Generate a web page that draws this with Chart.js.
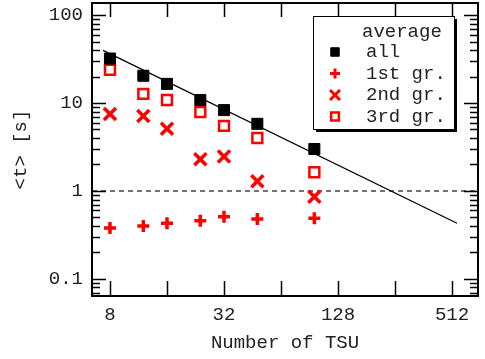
<!DOCTYPE html>
<html>
<head>
<meta charset="utf-8">
<script src="https://cdn.jsdelivr.net/npm/chart.js@4"></script>
<style>
  html, body { margin: 0; padding: 0; background: #fff; }
  #wrap { width: 485px; height: 359px; }
</style>
</head>
<body>
<div id="wrap"><canvas id="myChart"></canvas></div>
<script>
'use strict'

// number of TSU (x axis)
const tsu = [8, 12, 16, 24, 32, 48, 96];
// average <t> in seconds for each group
const tAll = [32, 20.4, 16.5, 10.8, 8.3, 5.8, 3.0];
const tFirst = [0.38, 0.40, 0.43, 0.46, 0.51, 0.48, 0.49];
const tSecond = [7.5, 7.1, 5.1, 2.3, 2.46, 1.29, 0.86];
const tThird = [23.9, 12.7, 10.8, 7.9, 5.5, 4.0, 1.63];
// guide line (power law) end points
const fitX = [7.35, 544];
const fitY = [39.6, 0.43];
// axis ranges + ticks
const X_MIN = 6.43, X_MAX = 702;
const Y_MIN = 0.064, Y_MAX = 137;
const xTicks = [8, 32, 128, 512];
const xMarks = [8, 16, 32, 64, 128, 256, 512];
const yTicks = [0.1, 1, 10, 100];

const FONT = "'Liberation Mono', 'DejaVu Sans Mono', monospace";
const RED = '#ff0000';

function pts(xs, ys) {
  return xs.map((x, i) => ({ x: x, y: ys[i] }));
}

// legend entries (label + marker style)
const legendItems = [
  { label: 'all', style: 'rect', fill: '#000', stroke: '#000', r: 6, w: 1 },
  { label: '1st gr.', style: 'cross', fill: RED, stroke: RED, r: 5, w: 3 },
  { label: '2nd gr.', style: 'crossRot', fill: RED, stroke: RED, r: 7, w: 3 },
  { label: '3rd gr.', style: 'rect', fill: 'rgba(0,0,0,0)', stroke: RED, r: 5.5, w: 2.5 }
];

// frame, inward ticks and the boxed legend
const framePlugin = {
  id: 'frame',
  afterDraw(chart) {
    const ctx = chart.ctx;
    const a = chart.chartArea;
    const xs = chart.scales.x;
    const ys = chart.scales.y;
    ctx.save();
    ctx.strokeStyle = '#000';
    ctx.lineWidth = 1.5;
    ctx.beginPath();
    // x ticks, bottom + top
    xMarks.forEach(v => {
      const px = Math.round(xs.getPixelForValue(v)) + 0.5;
      ctx.moveTo(px, a.bottom); ctx.lineTo(px, a.bottom - 15);
      ctx.moveTo(px, a.top); ctx.lineTo(px, a.top + 14);
    });
    // y ticks, left + right
    for (let d = -2; d <= 2; d++) {
      for (let m = 1; m <= 9; m++) {
        const v = m * Math.pow(10, d);
        if (v < Y_MIN || v > Y_MAX) continue;
        const py = Math.round(ys.getPixelForValue(v)) + 0.5;
        const len = m === 1 ? 14 : 8;
        ctx.moveTo(a.left, py); ctx.lineTo(a.left + len, py);
        ctx.moveTo(a.right, py); ctx.lineTo(a.right - len, py);
      }
    }
    ctx.stroke();
    ctx.lineWidth = 2;
    ctx.strokeRect(a.left, a.top, a.right - a.left, a.bottom - a.top);

    // legend box
    const bx = 313, by = 16, bw = 141, bh = 113;
    ctx.fillStyle = '#000';
    ctx.fillRect(bx + 3, by + 3, bw, bh);
    ctx.fillStyle = '#fff';
    ctx.fillRect(bx, by, bw, bh);
    ctx.lineWidth = 1;
    ctx.strokeRect(bx + 0.5, by + 0.5, bw, bh);

    ctx.font = '19px ' + FONT;
    ctx.textBaseline = 'middle';
    ctx.textAlign = 'left';
    ctx.fillStyle = '#222';
    ctx.fillText('average', 362, by + 16);
    legendItems.forEach((it, i) => {
      const cy = by + 36 + i * 21.5;
      ctx.fillStyle = it.fill;
      ctx.strokeStyle = it.stroke;
      ctx.lineWidth = it.w;
      Chart.helpers.drawPoint(ctx, { pointStyle: it.style, radius: it.r, borderWidth: it.w, rotation: 0 }, 335, cy);
      ctx.fillStyle = '#222';
      ctx.fillText(it.label, 366, cy);
    });
    ctx.restore();
  }
};

const config = {
  type: 'scatter',
  data: {
    datasets: [
      {
        label: 'all',
        data: pts(tsu, tAll),
        pointStyle: 'rect',
        pointRadius: 7.8,
        backgroundColor: '#000',
        borderColor: '#000',
        borderWidth: 1
      },
      {
        label: '1st gr.',
        data: pts(tsu, tFirst),
        pointStyle: 'cross',
        pointRadius: 6,
        borderColor: RED,
        backgroundColor: RED,
        borderWidth: 3.5
      },
      {
        label: '2nd gr.',
        data: pts(tsu, tSecond),
        pointStyle: 'crossRot',
        pointRadius: 8.5,
        borderColor: RED,
        backgroundColor: RED,
        borderWidth: 3.5
      },
      {
        label: '3rd gr.',
        data: pts(tsu, tThird),
        pointStyle: 'rect',
        pointRadius: 7,
        borderColor: RED,
        backgroundColor: 'rgba(0,0,0,0)',
        borderWidth: 2.5
      },
      {
        type: 'line',
        label: 'fit',
        data: pts(fitX, fitY),
        borderColor: '#000',
        borderWidth: 1.3,
        pointRadius: 0,
        showLine: true
      },
      {
        type: 'line',
        label: 'one',
        data: pts([X_MIN, X_MAX], [1, 1]),
        borderColor: '#444',
        borderWidth: 1.5,
        borderDash: [5, 4],
        pointRadius: 0,
        showLine: true
      }
    ]
  },
  options: {
    responsive: false,
    animation: false,
    events: [],
    layout: { autoPadding: false, padding: { top: 3, right: 7, left: 0, bottom: 0 } },
    plugins: {
      legend: { display: false },
      tooltip: { enabled: false }
    },
    scales: {
      x: {
        type: 'logarithmic',
        min: X_MIN,
        max: X_MAX,
        afterBuildTicks: s => { s.ticks = xTicks.map(v => ({ value: v })); },
        afterFit: s => { s.height = 63; s.paddingLeft = 0; s.paddingRight = 0; },
        grid: { display: false, drawTicks: false },
        border: { display: false },
        ticks: {
          autoSkip: false,
          maxRotation: 0,
          padding: 8,
          color: '#222',
          font: { family: FONT, size: 19 },
          callback: v => String(v)
        },
        title: {
          display: true,
          text: 'Number of TSU',
          color: '#222',
          font: { family: FONT, size: 19 },
          padding: { top: 0, bottom: 5 }
        }
      },
      y: {
        type: 'logarithmic',
        min: Y_MIN,
        max: Y_MAX,
        afterBuildTicks: s => { s.ticks = yTicks.map(v => ({ value: v })); },
        afterFit: s => { s.width = 92; s.paddingTop = 0; s.paddingBottom = 0; },
        grid: { display: false, drawTicks: false },
        border: { display: false },
        ticks: {
          autoSkip: false,
          padding: 9,
          color: '#222',
          font: { family: FONT, size: 19 },
          callback: v => String(v)
        },
        title: {
          display: true,
          text: '<t> [s]',
          color: '#222',
          font: { family: FONT, size: 19 },
          padding: { top: 10, bottom: 0 }
        }
      }
    }
  },
  plugins: [framePlugin]
};

const canvas = document.getElementById('myChart');
canvas.width = 485;
canvas.height = 359;
const myChart = new Chart(canvas.getContext('2d'), config);
</script>
</body>
</html>
